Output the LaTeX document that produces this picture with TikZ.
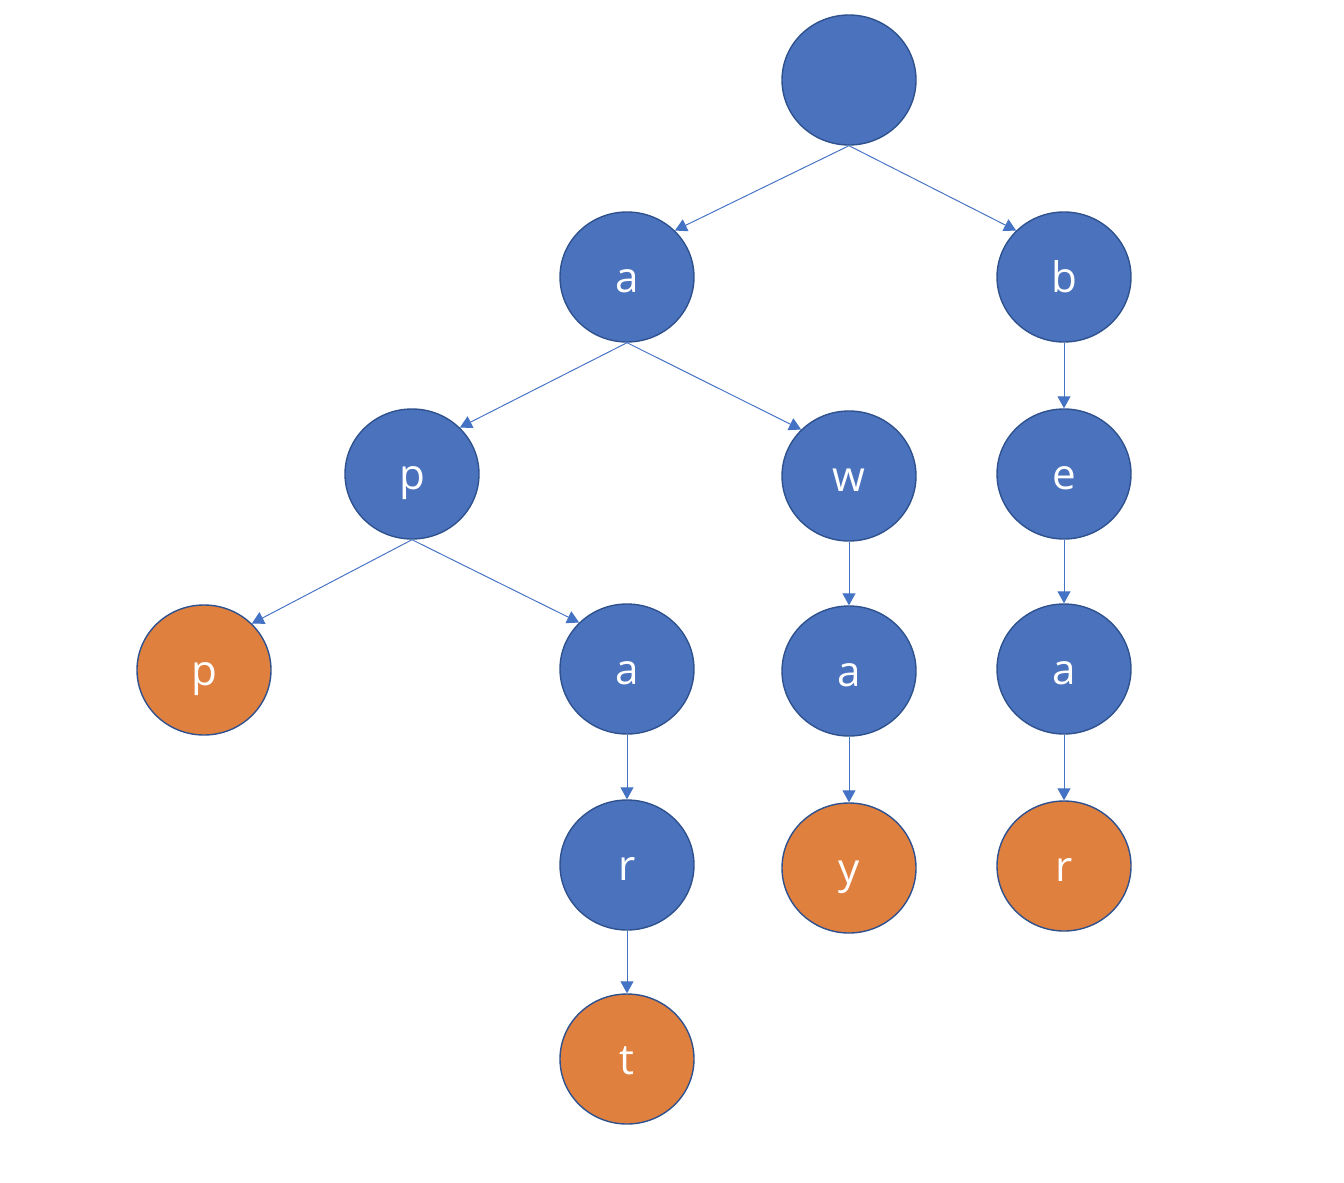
\documentclass[tikz,border=0pt]{standalone}
\usepackage{fontspec}
\setmainfont{Open Sans}
\usepackage{xcolor}
\usepackage{tikz}
\usetikzlibrary{arrows.meta,shapes.geometric}

\definecolor{nodeblue}{HTML}{4A72BD}
\definecolor{nodeline}{HTML}{2F528F}
\definecolor{leaforange}{HTML}{E0803F}
\definecolor{edgeblue}{HTML}{4472C4}

\begin{document}
\begin{tikzpicture}[
    nd/.style={ellipse, draw=nodeline, line width=0.8pt, fill=nodeblue,
               minimum width=2.68cm, minimum height=2.6cm, inner sep=0pt,
               text height=0.6cm, text depth=0cm,
               text=white, font=\fontsize{24}{28}\selectfont},
    leaf/.style={nd, fill=leaforange},
    arr/.style={-{Triangle[length=2.4mm,width=2.6mm]}, draw=edgeblue, line width=0.55pt}
  ]
  \useasboundingbox (0,0) rectangle (26.88,-23.64);

  % Root and first level
  \node[nd] (root) at (16.98,-1.60) {};
  \node[nd] (a) at (12.54,-5.54) {a};
  \node[nd] (b) at (21.28,-5.54) {b};

  % Second level
  \node[nd] (ap) at (8.24,-9.48) {p};
  \node[nd] (aw) at (16.98,-9.52) {w};
  \node[nd] (be) at (21.28,-9.48) {e};

  % Third level
  \node[leaf] (app) at (4.08,-13.40) {p};
  \node[nd] (apa) at (12.54,-13.38) {a};
  \node[nd] (awa) at (16.98,-13.42) {a};
  \node[nd] (bea) at (21.28,-13.38) {a};

  % Fourth level
  \node[nd] (apar) at (12.54,-17.30) {r};
  \node[leaf] (away) at (16.98,-17.36) {y};
  \node[leaf] (bear) at (21.28,-17.32) {r};

  % Fifth level
  \node[leaf] (apart) at (12.54,-21.18) {t};

  % Arrows
  \draw[arr] (root.south) -- (a.north east);
  \draw[arr] (root.south) -- (b.north west);
  \draw[arr] (a.south) -- (ap.north east);
  \draw[arr] (a.south) -- (aw.north west);
  \draw[arr] (b.south) -- (be.north);
  \draw[arr] (ap.south) -- (app.north east);
  \draw[arr] (ap.south) -- (apa.north west);
  \draw[arr] (aw.south) -- (awa.north);
  \draw[arr] (be.south) -- (bea.north);
  \draw[arr] (apa.south) -- (apar.north);
  \draw[arr] (awa.south) -- (away.north);
  \draw[arr] (bea.south) -- (bear.north);
  \draw[arr] (apar.south) -- (apart.north);
\end{tikzpicture}
\end{document}
